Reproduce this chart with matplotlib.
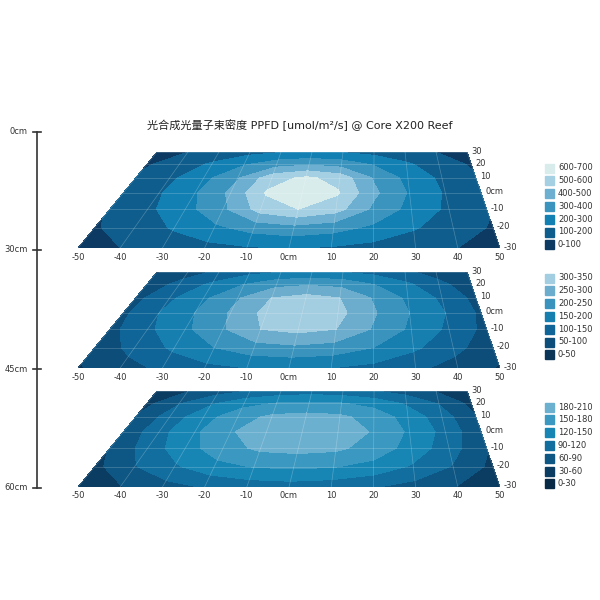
import numpy as np
import matplotlib.pyplot as plt
from matplotlib.patches import Rectangle

plt.rcParams['font.family'] = ['DejaVu Sans', 'Noto Sans CJK SC']

# grid positions (cm)
xs = [-50, -40, -30, -20, -10, 0, 10, 20, 30, 40, 50]
ys = [-30, -20, -10, 0, 10, 20, 30]

# PPFD, rows y=-30..30, columns x=-50..50
ppfd_30 = [
    [60, 100, 140, 165, 190, 200, 190, 165, 140, 100, 60],
    [90, 150, 210, 280, 340, 370, 340, 280, 210, 150, 90],
    [110, 180, 265, 380, 540, 600, 540, 380, 265, 180, 110],
    [115, 190, 290, 420, 610, 690, 610, 420, 290, 190, 115],
    [110, 180, 270, 390, 560, 620, 560, 390, 270, 180, 110],
    [90, 150, 215, 290, 360, 390, 360, 290, 215, 150, 90],
    [60, 100, 140, 170, 195, 205, 195, 170, 140, 100, 60],
]
ppfd_45 = [
    [45, 80, 110, 135, 150, 155, 150, 135, 110, 80, 45],
    [70, 115, 160, 200, 230, 240, 230, 200, 160, 115, 70],
    [85, 140, 190, 245, 300, 315, 300, 245, 190, 140, 85],
    [90, 150, 200, 255, 315, 335, 315, 255, 200, 150, 90],
    [85, 140, 190, 245, 300, 318, 300, 245, 190, 140, 85],
    [70, 115, 160, 200, 235, 245, 235, 200, 160, 115, 70],
    [45, 80, 110, 135, 150, 155, 150, 135, 110, 80, 45],
]
ppfd_60 = [
    [35, 58, 78, 92, 102, 106, 102, 92, 78, 58, 35],
    [52, 88, 116, 140, 152, 156, 152, 140, 116, 88, 52],
    [62, 104, 138, 168, 186, 190, 186, 168, 138, 104, 62],
    [66, 110, 145, 178, 193, 198, 193, 178, 145, 110, 66],
    [62, 104, 138, 168, 186, 190, 186, 168, 138, 104, 62],
    [52, 88, 116, 140, 152, 156, 152, 140, 116, 88, 52],
    [35, 58, 78, 92, 102, 106, 102, 92, 78, 58, 35],
]

levels_30 = [0, 100, 200, 300, 400, 500, 600, 700]
levels_45 = [0, 50, 100, 150, 200, 250, 300, 350]
levels_60 = [0, 30, 60, 90, 120, 150, 180, 210]
colors_30 = ['#0c3a63', '#0e5d8c', '#1380b3', '#3b94bd', '#6cafd0', '#a5cfe2', '#d8ecec']
colors_45 = ['#0b3558', '#0d4d7a', '#0f6597', '#167fb0', '#3a93bd', '#6caccc', '#a3cde0']
colors_60 = ['#082a47', '#0b3d63', '#0e5683', '#116e9e', '#1886b5', '#3b98c0', '#6cb0d0']

depth_labels = ['0cm', '30cm', '45cm', '60cm']
x_ticklabels = ['-50', '-40', '-30', '-20', '-10', '0cm', '10', '20', '30', '40', '50']
y_ticklabels = ['-30', '-20', '-10', '0cm', '10', '20', '30']


def proj(u, v, bottom):
    # fake perspective: far edge (v=30) is narrower and higher
    s = (np.asarray(v, float) + 30) / 60
    z = 1 + 0.36 * s
    sy = bottom - 362 + 362 / z
    cx = 289 + (1 - 1 / z) / 0.265 * 23
    sx = cx + np.asarray(u, float) / 50 * 211 / z
    return sx, sy


fig = plt.figure(figsize=(6, 6), dpi=100)
ax = fig.add_axes([0, 0, 1, 1])
ax.set_xlim(0, 600)
ax.set_ylim(600, 0)
ax.axis('off')

ax.text(300, 125, '光合成光量子束密度 PPFD [umol/m²/s] @ Core X200 Reef',
        ha='center', va='center', fontsize=8, color='#222222')

U, V = np.meshgrid(xs, ys)
panels = [(ppfd_30, levels_30, colors_30, 248, 168),
          (ppfd_45, levels_45, colors_45, 368, 278),
          (ppfd_60, levels_60, colors_60, 487, 407)]

for data, levels, colors, bottom, leg_top in panels:
    SX, SY = proj(U, V, bottom)
    ax.contourf(SX, SY, np.array(data), levels=levels, colors=colors)
    # grid lines
    for x in xs:
        px, py = proj([x, x], [-30, 30], bottom)
        ax.plot(px, py, color='white', lw=0.5, alpha=0.25)
    for y in ys:
        px, py = proj([-50, 50], [y, y], bottom)
        ax.plot(px, py, color='white', lw=0.5, alpha=0.25)
    # tick labels
    for x, lab in zip(xs, x_ticklabels):
        px, py = proj(x, -30, bottom)
        ax.text(px, py + 9, lab, ha='center', va='center', fontsize=6, color='#333333')
    for y, lab in zip(ys, y_ticklabels):
        px, py = proj(50, y, bottom)
        ax.text(px + 4, py - 1, lab, ha='left', va='center', fontsize=6, color='#333333')
    # legend, highest band first
    for i in range(len(colors)):
        k = len(colors) - 1 - i
        yy = leg_top + i * 12.8
        ax.add_patch(Rectangle((545, yy - 4.5), 9, 9, color=colors[k]))
        ax.text(558, yy, f'{levels[k]}-{levels[k + 1]}', ha='left', va='center',
                fontsize=6, color='#333333')

# depth axis on the left
ax.plot([37, 37], [132, 488], color='#333333', lw=1.2)
for yy, lab in zip([132, 250, 369, 488], depth_labels):
    ax.plot([33, 41], [yy, yy], color='#333333', lw=1.2)
    ax.text(28, yy, lab, ha='right', va='center', fontsize=6, color='#333333')

fig.savefig('out.png', dpi=100)
